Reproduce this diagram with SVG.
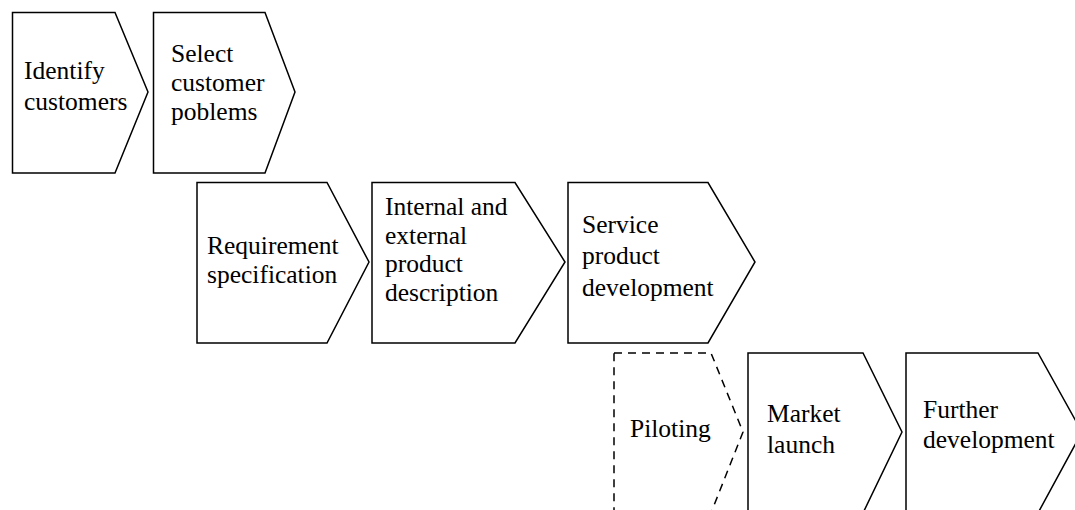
<svg xmlns="http://www.w3.org/2000/svg" width="1075" height="510" viewBox="0 0 1075 510">
<style>
.s{fill:#fff;stroke:#000;stroke-width:1.5;stroke-linejoin:miter}
.d{stroke-dasharray:8,6}
text{font-family:"Liberation Serif","Times New Roman",serif;font-size:25.5px;fill:#000}
</style>
<rect width="1075" height="510" fill="#fff"/>
<g id="connectors"></g>
<g id="n1"><path class="s" d="M12.5,12.5H115L148,92L115,173H12.5Z"/><text x="24" y="79">Identify</text><text x="24" y="110">customers</text></g>
<g id="n2"><path class="s" d="M153.5,12.5H265L295,92L265,173H153.5Z"/><text x="171" y="62">Select</text><text x="171" y="91">customer</text><text x="171" y="120">poblems</text></g>
<g id="n3"><path class="s" d="M197,182.5H327L369,262L327,343H197Z"/><text x="207" y="254">Requirement</text><text x="207" y="283">specification</text></g>
<g id="n4"><path class="s" d="M372,182.5H515L565,262L515,343H372Z"/><text x="385" y="215">Internal and</text><text x="385" y="243.5">external</text><text x="385" y="272">product</text><text x="385" y="300.5">description</text></g>
<g id="n5"><path class="s" d="M568,182.5H708L755,262L708,343H568Z"/><text x="582" y="233">Service</text><text x="582" y="264">product</text><text x="582" y="296">development</text></g>
<g id="n6"><path class="s d" d="M614,353H711L743,432L711,513H614Z"/><text x="630" y="437">Piloting</text></g>
<g id="n7"><path class="s" d="M748,353H863L902,432L863,513H748Z"/><text x="767" y="422">Market</text><text x="767" y="453">launch</text></g>
<g id="n8"><path class="s" d="M906,353H1038L1082,432L1038,513H906Z"/><text x="923" y="418">Further</text><text x="923" y="448">development</text></g>
</svg>
